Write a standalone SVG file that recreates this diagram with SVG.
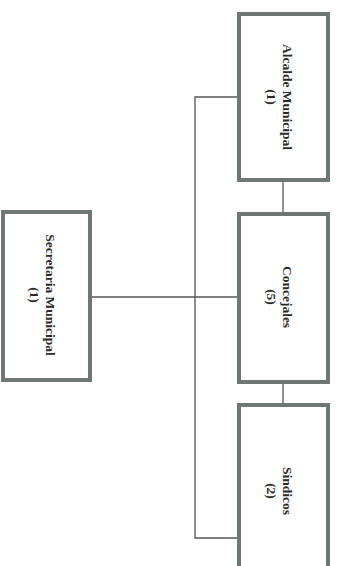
<svg xmlns="http://www.w3.org/2000/svg" width="339" height="566" viewBox="0 0 339 566">
<style>
.box{fill:#ffffff;stroke:#6f7773;stroke-width:4}
.lbl{font-family:"Liberation Serif","Times New Roman",serif;font-weight:bold;font-size:13.5px;fill:#2a2a2a;text-anchor:middle}
.con{fill:none;stroke:#555555;stroke-width:1.3}
</style>
<rect width="339" height="566" fill="#ffffff"/>
<g id="connectors">
<path class="con" d="M237,97 H195 V538 H237"/>
<path class="con" d="M92,297 H237"/>
<path class="con" d="M283,182 V212"/>
<path class="con" d="M283,384 V403"/>
</g>
<g id="alcalde">
<rect class="box" x="239" y="14" width="89" height="166"/>
<text class="lbl" transform="translate(283,97) rotate(90)">Alcalde Municipal</text>
<text class="lbl" transform="translate(267,97) rotate(90)">(1)</text>
</g>
<g id="concejales">
<rect class="box" x="239" y="214" width="89" height="168"/>
<text class="lbl" transform="translate(283,297) rotate(90)">Concejales</text>
<text class="lbl" transform="translate(267,297) rotate(90)">(5)</text>
</g>
<g id="sindicos">
<rect class="box" x="239" y="405" width="89" height="175"/>
<text class="lbl" transform="translate(283,491) rotate(90)">Sindicos</text>
<text class="lbl" transform="translate(267,491) rotate(90)">(2)</text>
</g>
<g id="secretaria">
<rect class="box" x="3" y="212" width="87" height="168"/>
<text class="lbl" transform="translate(46,295) rotate(90)">Secretaria Municipal</text>
<text class="lbl" transform="translate(30,295) rotate(90)">(1)</text>
</g>
</svg>
